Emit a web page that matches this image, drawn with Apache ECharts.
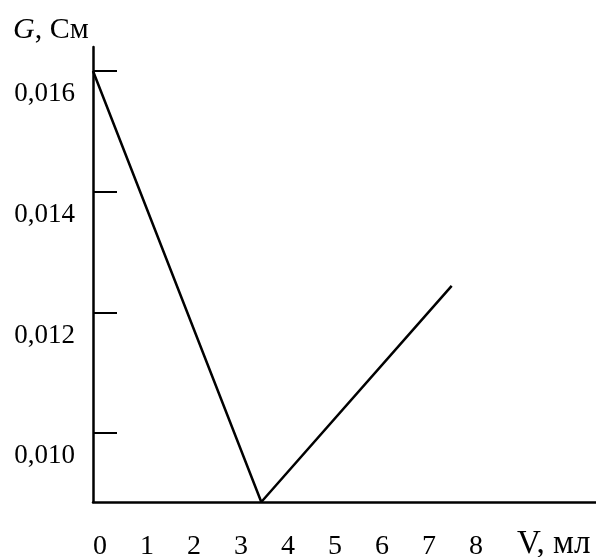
<!DOCTYPE html>
<html>
<head>
<meta charset="utf-8">
<script src="https://cdn.jsdelivr.net/npm/echarts@6/dist/echarts.min.js"></script>
<style>html,body{margin:0;padding:0;background:#fff;}#c{width:596px;height:557px;}</style>
</head>
<body>
<div id="c"></div>
<script>
var volumes = [0, 3.58, 7.63];
var conductance = [0.0160, 0.00886, 0.01244];
var xTickLabels = [0, 1, 2, 3, 4, 5, 6, 7, 8];
var yTickValues = [0.010, 0.012, 0.014, 0.016];
var xTitle = 'V, мл';
var yTitle = ['G', ', См'];

var chart = echarts.init(document.getElementById('c'), null, {renderer: 'canvas'});
var font = '"Liberation Serif", "Times New Roman", serif';
chart.setOption({
  backgroundColor: '#fff',
  animation: false,
  grid: {left: 93, top: 47, right: 0, bottom: 55, outerBoundsMode: 'none', containLabel: false},
  xAxis: {
    type: 'value', min: 0, max: 10.7,
    splitLine: {show: false},
    axisLine: {show: true, lineStyle: {color: '#000', width: 2.5}},
    axisTick: {show: false},
    axisLabel: {
      customValues: xTickLabels,
      color: '#000', fontFamily: font, fontSize: 28,
      margin: 31, padding: [0, 0, 0, 14],
      showMinLabel: true, showMaxLabel: true
    }
  },
  yAxis: {
    type: 'value', min: 0.00886, max: 0.016398,
    splitLine: {show: false},
    axisLine: {show: true, onZero: false, lineStyle: {color: '#000', width: 2.5}},
    axisTick: {show: true, inside: true, length: 24, customValues: yTickValues, lineStyle: {color: '#000', width: 2}},
    axisLabel: {
      customValues: yTickValues,
      color: '#000', fontFamily: font, fontSize: 27,
      margin: 18, verticalAlign: 'top', lineHeight: 46,
      formatter: function (v) { return v.toFixed(3).replace('.', ','); }
    }
  },
  graphic: [
    {type: 'text', left: 517, top: 528, style: {text: xTitle, font: '33px ' + font, fill: '#000'}},
    {type: 'text', left: 13, top: 15, style: {
      text: '{i|' + yTitle[0] + '}{n|' + yTitle[1] + '}',
      rich: {
        i: {fontFamily: font, fontSize: 30, fontStyle: 'italic', fill: '#000', color: '#000'},
        n: {fontFamily: font, fontSize: 30, fill: '#000', color: '#000'}
      }
    }}
  ],
  series: [{
    type: 'line',
    data: volumes.map(function (x, i) { return [x, conductance[i]]; }),
    symbol: 'none',
    lineStyle: {color: '#000', width: 2.5},
    clip: false
  }]
});
</script>
</body>
</html>
